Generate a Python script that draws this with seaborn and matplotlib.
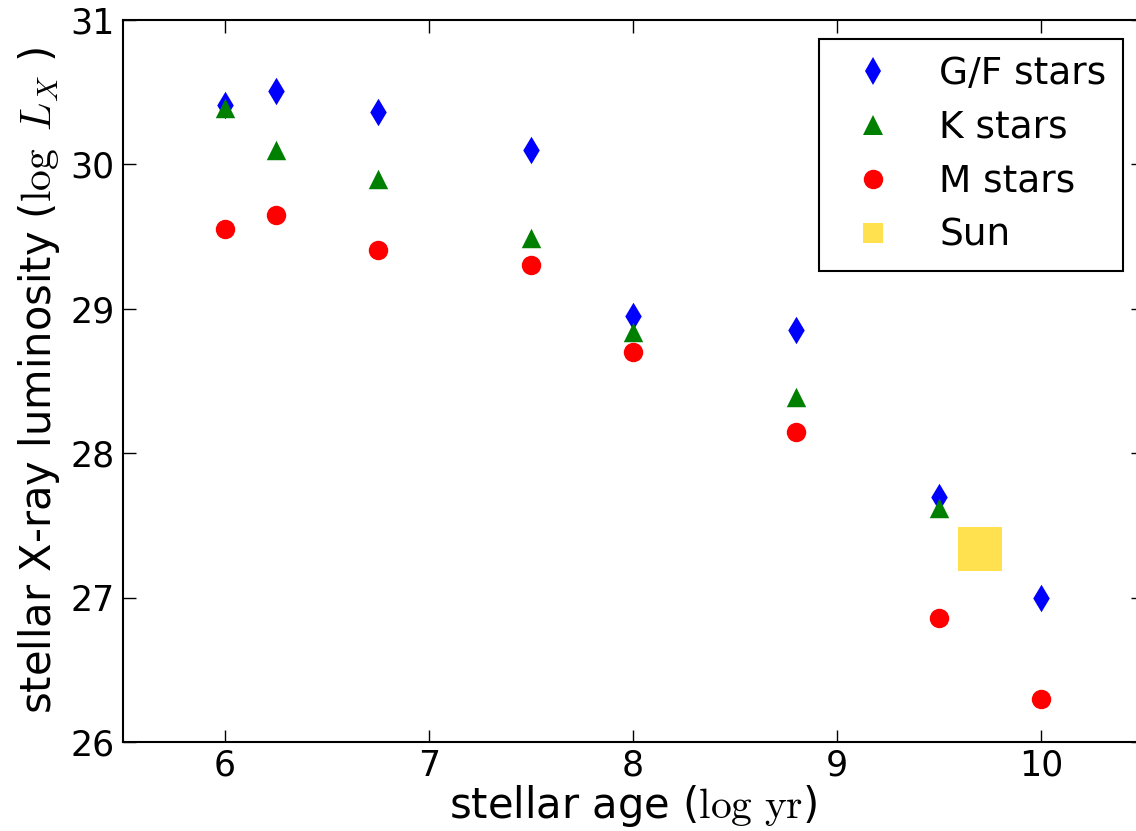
import numpy as np
import pandas as pd
import matplotlib
matplotlib.use('Agg')
import matplotlib.pyplot as plt
import seaborn as sns
from matplotlib.lines import Line2D

# stellar age (log yr) and X-ray luminosity (log L_X)
age_gf = [6.0, 6.25, 6.75, 7.5, 8.0, 8.8, 9.5, 10.0]
lx_gf = [30.41, 30.51, 30.36, 30.10, 28.95, 28.85, 27.70, 27.00]
age_k = [6.0, 6.25, 6.75, 7.5, 8.0, 8.8, 9.5]
lx_k = [30.39, 30.10, 29.90, 29.49, 28.84, 28.39, 27.62]
age_m = [6.0, 6.25, 6.75, 7.5, 8.0, 8.8, 9.5, 10.0]
lx_m = [29.55, 29.65, 29.41, 29.30, 28.70, 28.15, 26.86, 26.30]
age_sun = [9.7]
lx_sun = [27.34]

labels = ['G/F stars', 'K stars', 'M stars', 'Sun']
colors = ['#0000ff', '#008000', '#ff0000', '#ffe14f']
markers = ['d', '^', 'o', 's']
sizes = [14, 14, 14, 31]

sns.set_style('ticks')
plt.rcParams['font.family'] = ['DejaVu Sans']
plt.rcParams['mathtext.fontset'] = 'cm'
plt.rcParams['text.color'] = 'black'
plt.rcParams['axes.labelcolor'] = 'black'
plt.rcParams['xtick.color'] = 'black'
plt.rcParams['ytick.color'] = 'black'
plt.rcParams['xtick.direction'] = 'in'
plt.rcParams['ytick.direction'] = 'in'
plt.rcParams['xtick.top'] = True
plt.rcParams['ytick.right'] = True

fig = plt.figure(figsize=(11.36, 8.31), dpi=100)
ax = fig.add_axes([123 / 1136, 89 / 831, 1020 / 1136, 722 / 831])

groups = [(age_gf, lx_gf), (age_k, lx_k), (age_m, lx_m), (age_sun, lx_sun)]
for (x, y), lab, c, m, s in zip(groups, labels, colors, markers, sizes):
    df = pd.DataFrame({'age': x, 'lx': y})
    sns.scatterplot(data=df, x='age', y='lx', ax=ax, marker=m, color=c,
                    s=s ** 2, linewidth=0, legend=False)

ax.set_xlim(5.5, 10.5)
ax.set_ylim(26, 31)
ax.set_xticks([6, 7, 8, 9, 10])
ax.set_yticks([26, 27, 28, 29, 30, 31])
ax.tick_params(labelsize=25, length=9, width=1)
ax.tick_params(axis='x', pad=5)
ax.tick_params(axis='y', pad=6)
for sp in ax.spines.values():
    sp.set_linewidth(1.5)
    sp.set_color('black')

ax.set_xlabel(r'stellar age ($\log\,\mathrm{yr}$)', fontsize=30, labelpad=0)
ax.set_ylabel(r'stellar X-ray luminosity ($\log\ L_X$ )', fontsize=30, labelpad=6)

handles = [Line2D([], [], linestyle='None', marker=m, color=c, markersize=14,
                  markeredgewidth=0) for m, c in zip(markers, colors)]
leg = ax.legend(handles, labels, loc='upper left', fontsize=27, numpoints=1,
                bbox_to_anchor=(819 / 1136, 1 - 39 / 831),
                bbox_transform=fig.transFigure, borderaxespad=0,
                fancybox=False, framealpha=1, edgecolor='black',
                labelspacing=0.48, handlelength=2.0, handletextpad=0.75,
                borderpad=0.45)
leg.get_frame().set_linewidth(1.5)

fig.savefig('out.png', dpi=100)
